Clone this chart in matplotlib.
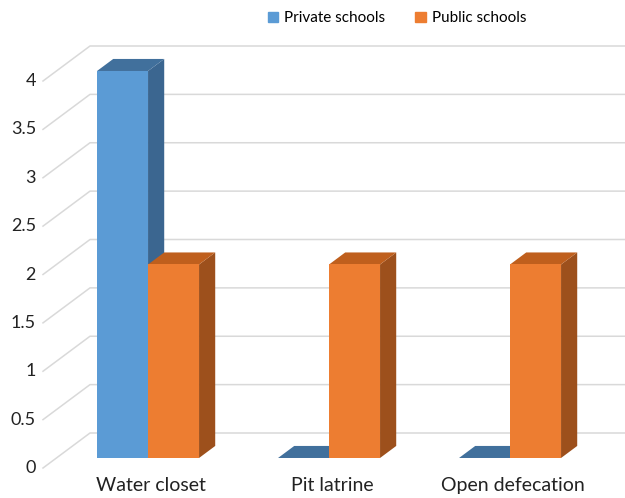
import matplotlib.pyplot as plt
from matplotlib.patches import Patch

# ------------ data ------------
categories = ["Water closet", "Pit latrine", "Open defecation"]
series_names = ["Private schools", "Public schools"]
private_vals = [4, 0, 0]
public_vals = [2, 2, 2]
yticks = [0, 0.5, 1, 1.5, 2, 2.5, 3, 3.5, 4]

# front / top / side shades for each series
COLORS = {
    "Private schools": ("#5b9bd5", "#41709c", "#3b6690"),
    "Public schools": ("#ed7d31", "#bf5f1d", "#9d501c"),
}
GRID = "#d9d9d9"
FONT = "Lato"

# ------------ layout (pixels) ------------
W, H = 625, 498
PX_CAT = 181.0     # px per category step
PX_VAL = 96.75     # px per value unit
X0 = 134.6         # px of category 0 at front of the floor
Y0 = 468.0         # px of value 0 at front of the floor
DX = 47 / PX_CAT   # oblique offset for full floor depth
DY = 35 / PX_VAL
WALL_X = (43 - X0) / PX_CAT
BW = 51 / PX_CAT   # bar width
D0, D1 = 0.286, 0.63   # bar depth span


def proj(x, v, d):
    return x + d * DX, v + d * DY


def poly(ax, pts, color):
    xs, ys = zip(*pts)
    ax.fill(xs, ys, color=color, lw=0, zorder=3)


def draw_bar(ax, xl, xr, v, cols):
    front, top, side = cols
    if v > 0:
        poly(ax, [proj(xr, 0, D0), proj(xr, 0, D1), proj(xr, v, D1), proj(xr, v, D0)], side)
        poly(ax, [proj(xl, v, D0), proj(xr, v, D0), proj(xr, v, D1), proj(xl, v, D1)], top)
        poly(ax, [proj(xl, 0, D0), proj(xr, 0, D0), proj(xr, v, D0), proj(xl, v, D0)], front)
    else:
        poly(ax, [proj(xl, 0, D0), proj(xr, 0, D0), proj(xr, 0, D1), proj(xl, 0, D1)], top)


fig = plt.figure(figsize=(W / 100, H / 100), dpi=100)
ax = fig.add_axes([0, 0, 1, 1])
xmin, xmax = -X0 / PX_CAT, (W - X0) / PX_CAT
ax.set_xlim(xmin, xmax)
ax.set_ylim((Y0 - H) / PX_VAL, Y0 / PX_VAL)
ax.axis("off")

# side wall + back wall gridlines
for v in yticks:
    fx, fy = proj(WALL_X, v, 0)
    bx, by = proj(WALL_X, v, 1)
    ax.plot([fx, bx, xmax + 1], [fy, by, by], color=GRID, lw=1.1, zorder=1)
    ax.text(fx - 7 / PX_CAT, fy, f"{v:g}", ha="right", va="center",
            fontsize=13, family=FONT, color="#222222")

for i, cat in enumerate(categories):
    vals = [private_vals[i], public_vals[i]]
    for j, name in enumerate(series_names):
        xl = i - BW + j * BW
        draw_bar(ax, xl, xl + BW, vals[j], COLORS[name])
    lx, _ = proj(i, 0, D0)
    ax.text(lx + 3 / PX_CAT, -0.18, cat, ha="center", va="center",
            fontsize=14, family=FONT, color="#222222")

handles = [Patch(color=COLORS[n][0], label=n) for n in series_names]
fig.legend(handles=handles, loc="center", bbox_to_anchor=(0.635, 0.963), ncol=2,
           frameon=False, prop={"family": FONT, "size": 11},
           handlelength=0.7, handleheight=0.7, handletextpad=0.35, columnspacing=2.0)

fig.savefig("out.png", dpi=100)
